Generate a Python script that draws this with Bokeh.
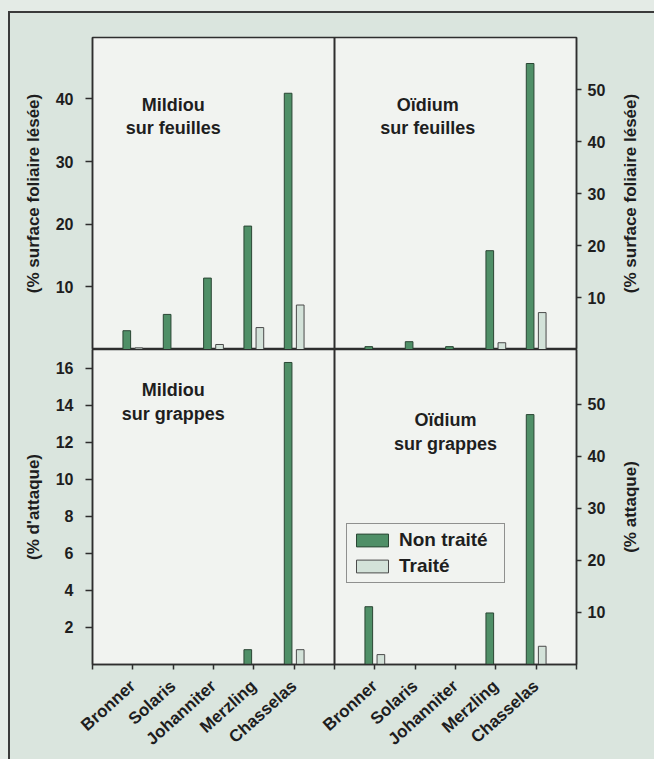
import math
from bokeh.plotting import figure
from bokeh.models import (ColumnDataSource, FixedTicker, Label, Legend, LegendItem, Div,
                          Range1d, LinearAxis, Span)
from bokeh.layouts import row, column
from bokeh.transform import dodge
from bokeh.embed import file_html
from bokeh.resources import INLINE

# ---------------- data ----------------
cepages = ["Bronner", "Solaris", "Johanniter", "Merzling", "Chasselas"]

mildiou_feuilles_non_traite = [3.0, 5.6, 11.4, 19.7, 40.9]
mildiou_feuilles_traite = [0.25, 0.0, 0.8, 3.5, 7.1]
oidium_feuilles_non_traite = [0.55, 1.5, 0.55, 19.0, 55.0]
oidium_feuilles_traite = [0.0, 0.0, 0.0, 1.3, 7.1]
mildiou_grappes_non_traite = [0.0, 0.0, 0.0, 0.8, 16.3]
mildiou_grappes_traite = [0.0, 0.0, 0.0, 0.0, 0.8]
oidium_grappes_non_traite = [11.1, 0.0, 0.0, 9.9, 48.0]
oidium_grappes_traite = [1.9, 0.0, 0.0, 0.0, 3.5]

ticks_mildiou_feuilles = [10, 20, 30, 40]
ticks_oidium_feuilles = [10, 20, 30, 40, 50]
ticks_mildiou_grappes = [2, 4, 6, 8, 10, 12, 14, 16]
ticks_oidium_grappes = [10, 20, 30, 40, 50]

label_feuilles = "(% surface foliaire lésée)"
label_mildiou_grappes = "(% d'attaque)"
label_oidium_grappes = "(% attaque)"
legend_labels = ["Non traité", "Traité"]

# ---------------- style ----------------
FONT = "Liberation Sans"
DARK = "#2e2e2e"
TEXT = "#1e1e1e"
PANEL_BG = "#f1f3f0"
OUTER_BG = "#dae5de"
EDGE_BG = "#e4ebe6"
NT_FILL = "#4f8f67"
NT_LINE = "#2a4634"
T_FILL = "#d3e2d9"
T_LINE = "#4a4a4a"

n = len(cepages)
x_left = [i + 1 for i in range(n)]            # panneau de gauche
x_right = [n + 1 + i + 1 for i in range(n)]   # panneau de droite
x_max = 2 * (n + 1)

W = 608          # width of the main plotting block
S = 36           # strip holding the right-hand titles
TOP_H = 336
BOT_H = 410
ML, MR = 82, 42


def style_axis(ax, tick_out, standoff, label_standoff, size="16px"):
    ax.axis_line_color = DARK
    ax.axis_line_width = 1.5
    ax.major_tick_line_color = DARK
    ax.major_tick_line_width = 1.5
    ax.major_tick_in = 0
    ax.major_tick_out = tick_out
    ax.minor_tick_line_color = None
    ax.major_label_text_font = FONT
    ax.major_label_text_font_style = "bold"
    ax.major_label_text_font_size = size
    ax.major_label_text_color = TEXT
    ax.major_label_standoff = standoff
    ax.axis_label_text_font = FONT
    ax.axis_label_text_font_style = "bold"
    ax.axis_label_text_font_size = "17px"
    ax.axis_label_text_color = TEXT
    ax.axis_label_standoff = label_standoff


def block(height, ymax_l, ymax_r, bottom_axis, data_l, data_r, ticks_l, ticks_r,
          ylabel_l, mtop, mbottom):
    p = figure(width=W, height=height, title=None,
               x_range=Range1d(0, x_max), y_range=Range1d(0, ymax_l),
               x_axis_location="below" if bottom_axis else None,
               output_backend="svg", toolbar_location=None,
               min_border_left=ML, min_border_right=MR,
               min_border_top=mtop, min_border_bottom=mbottom)
    p.extra_y_ranges = {"r": Range1d(0, ymax_r)}
    p.background_fill_color = PANEL_BG
    p.border_fill_color = OUTER_BG
    p.outline_line_color = DARK
    p.outline_line_width = 1.5
    p.xgrid.visible = False
    p.ygrid.visible = False

    renderers = []
    for xs, (nt, t), rname in ((x_left, data_l, "default"), (x_right, data_r, "r")):
        src = ColumnDataSource(dict(x=xs, nt=nt, t=t))
        r_nt = p.vbar(x=dodge("x", -0.15, range=p.x_range), top="nt", bottom=0, width=0.19,
                      source=src, fill_color=NT_FILL, line_color=NT_LINE, line_width=1,
                      y_range_name=rname)
        r_t = p.vbar(x=dodge("x", 0.15, range=p.x_range), top="t", bottom=0, width=0.19,
                     source=src, fill_color=T_FILL, line_color=T_LINE, line_width=1,
                     y_range_name=rname)
        renderers.append((r_nt, r_t))

    p.add_layout(Span(location=n + 1, dimension="height", line_color=DARK, line_width=2))

    yl = p.yaxis[0]
    yl.ticker = FixedTicker(ticks=ticks_l)
    yl.axis_label = ylabel_l
    style_axis(yl, 7, 12, 10)

    yr = LinearAxis(y_range_name="r", ticker=FixedTicker(ticks=ticks_r))
    style_axis(yr, 5, 6, 0)
    p.add_layout(yr, "right")

    if bottom_axis:
        xax = p.xaxis[0]
        xax.ticker = FixedTicker(ticks=list(range(0, x_max + 1)))
        overrides = {0: "", n + 1: "", x_max: ""}
        for xi, name in zip(x_left, cepages):
            overrides[xi] = name
        for xi, name in zip(x_right, cepages):
            overrides[xi] = name
        xax.major_label_overrides = overrides
        style_axis(xax, 5, 14, 0, size="17px")
        xax.major_label_orientation = 0.733
    return p, renderers


def strip(height, text, y_center):
    """Narrow figure on the right that carries the right-hand axis title,
    read from bottom to top like in the original."""
    s = figure(width=S, height=height, title=None,
               x_range=Range1d(0, S), y_range=Range1d(0, height),
               x_axis_location=None, y_axis_location=None,
               output_backend="svg", toolbar_location=None,
               min_border_left=0, min_border_right=0, min_border_top=0, min_border_bottom=0)
    s.outline_line_color = None
    s.background_fill_color = OUTER_BG
    s.border_fill_color = OUTER_BG
    s.xgrid.visible = False
    s.ygrid.visible = False
    s.add_layout(Label(x=12, y=y_center, text=text, angle=math.pi / 2,
                       text_align="center", text_baseline="middle",
                       text_font=FONT, text_font_style="bold", text_font_size="17px",
                       text_color=TEXT))
    return s


def title(p, x, y1, y2, l1, l2):
    for y, txt in ((y1, l1), (y2, l2)):
        p.add_layout(Label(x=x, y=y, text=txt, text_align="center", text_baseline="middle",
                           text_font=FONT, text_font_style="bold", text_font_size="18px",
                           text_color=TEXT))


top, _ = block(TOP_H, 49.8, 60, False,
               (mildiou_feuilles_non_traite, mildiou_feuilles_traite),
               (oidium_feuilles_non_traite, oidium_feuilles_traite),
               ticks_mildiou_feuilles, ticks_oidium_feuilles,
               label_feuilles, 24, 0)
bot, rends = block(BOT_H, 17, 60.5, True,
                   (mildiou_grappes_non_traite, mildiou_grappes_traite),
                   (oidium_grappes_non_traite, oidium_grappes_traite),
                   ticks_mildiou_grappes, ticks_oidium_grappes,
                   label_mildiou_grappes, 0, 95)

title(top, 2.0, 39.0, 35.3, "Mildiou", "sur feuilles")
title(top, 8.31, 39.0, 35.3, "Oïdium", "sur feuilles")
title(bot, 2.0, 14.8, 13.5, "Mildiou", "sur grappes")
title(bot, 8.75, 13.2, 11.9, "Oïdium", "sur grappes")

r_nt, r_t = rends[1]
legend = Legend(items=[LegendItem(label=legend_labels[0], renderers=[r_nt]),
                       LegendItem(label=legend_labels[1], renderers=[r_t])],
                location=(254, 81), orientation="vertical")
legend.border_line_color = DARK
legend.border_line_width = 1.5
legend.background_fill_color = PANEL_BG
legend.background_fill_alpha = 1
legend.label_text_font = FONT
legend.label_text_font_style = "bold"
legend.label_text_font_size = "19px"
legend.label_text_color = TEXT
legend.label_width = 100
legend.label_height = 22
legend.glyph_width = 40
legend.glyph_height = 16
legend.label_standoff = 7
legend.padding = 5
legend.spacing = 4
legend.margin = 0
bot.add_layout(legend)

strip_top = strip(TOP_H, label_feuilles, 156)
strip_bot = strip(BOT_H, label_oidium_grappes, 252.5)

BG = {"background-color": OUTER_BG}
top_pad = Div(text="", width=654, height=11, margin=0, styles={"background-color": EDGE_BG})
left_pad = Div(text="", width=8, height=2 + TOP_H + BOT_H, margin=0,
               styles={"background-color": EDGE_BG})
left_line = Div(text="", width=2, height=2 + TOP_H + BOT_H, margin=0,
                styles={"background-color": "#3a3a3a"})
top_line = Div(text="", width=W + S, height=2, margin=0, styles={"background-color": "#3a3a3a"})

plots = row(column(top, bot, spacing=0, styles=BG),
            column(strip_top, strip_bot, spacing=0, styles=BG),
            spacing=0, styles=BG)
body = column(top_line, plots, spacing=0, styles=BG)
page = column(top_pad, row(left_pad, left_line, body, spacing=0), spacing=0)

open("out.html", "w").write(file_html(page, INLINE))
